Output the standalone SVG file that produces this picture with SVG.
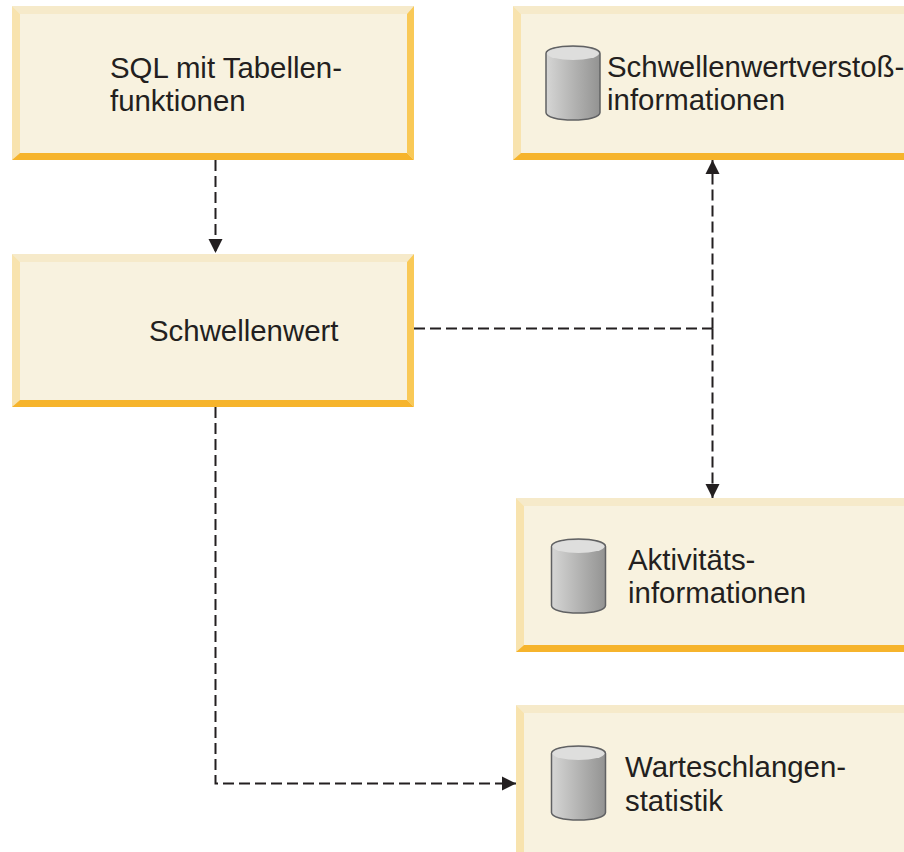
<svg xmlns="http://www.w3.org/2000/svg" width="904" height="852" viewBox="0 0 904 852">
<defs>
<linearGradient id="cyl" x1="0" x2="1" y1="0" y2="0"><stop offset="0" stop-color="#d6d6d5"/><stop offset="0.5" stop-color="#b4b4b3"/><stop offset="1" stop-color="#939392"/></linearGradient>
<marker id="ah" markerUnits="userSpaceOnUse" markerWidth="15" markerHeight="15" refX="14" refY="7.500" orient="auto-start-reverse"><path d="M0 0.5L14 7.500L0 14.500Z" fill="#231f20"/></marker>
<g id="db"><path class="cb" d="M0 7.500V66.500C0 71 12 74 27 74S54 71 54 66.500V7.500C54 3 42 0 27 0S0 3 0 7.500Z"/><ellipse class="ct" cx="27" cy="7.500" rx="26" ry="6.500"/></g>
</defs>
<style>
.face{fill:#f8f2df}.top{fill:#f6eaca}.left{fill:#f8e3ae}.right{fill:#f9c957}.bottom{fill:#f6b42c}
.cb{fill:url(#cyl);stroke:#606163;stroke-width:1.500}.ct{fill:#dededd}
text{font-family:"Liberation Sans",Arial,sans-serif;font-size:29.400px;fill:#231f20}
.c{fill:none;stroke:#231f20;stroke-width:2;stroke-dasharray:11 5}
</style>
<g id="connectors">
<path class="c" d="M215.500 160V253" marker-end="url(#ah)"/>
<path class="c" d="M414 328.500H712.500"/>
<path class="c" d="M712.500 328.500V160" marker-end="url(#ah)"/>
<path class="c" d="M712.500 328.500V498" marker-end="url(#ah)"/>
<path class="c" d="M215.500 407V783.500H516" marker-end="url(#ah)"/>
</g>
<g id="node-sql">
<rect class="face" x="12" y="6" width="402" height="154"/>
<path class="top" d="M12 6H414L407 14H20Z"/><path class="left" d="M12 6L20 14V153L12 160Z"/><path class="right" d="M414 6V160L407 153V14Z"/><path class="bottom" d="M12 160L20 153H407L414 160Z"/>
<text x="110" y="78">SQL mit Tabellen-</text><text x="110" y="111">funktionen</text>
</g>
<g id="node-violation">
<rect class="face" x="513" y="6" width="391" height="154"/>
<path class="top" d="M513 6H904V14H521Z"/><path class="left" d="M513 6L521 14V153L513 160Z"/><path class="bottom" d="M513 160L521 153H904V160Z"/>
<use href="#db" x="546" y="46"/>
<text x="607" y="77">Schwellenwertverstoß-</text><text x="607" y="110">informationen</text>
</g>
<g id="node-threshold">
<rect class="face" x="12" y="254" width="402" height="153"/>
<path class="top" d="M12 254H414L407 262H20Z"/><path class="left" d="M12 254L20 262V400L12 407Z"/><path class="right" d="M414 254V407L407 400V262Z"/><path class="bottom" d="M12 407L20 400H407L414 407Z"/>
<text x="149" y="341">Schwellenwert</text>
</g>
<g id="node-activity">
<rect class="face" x="516" y="498" width="388" height="154"/>
<path class="top" d="M516 498H904V506H524Z"/><path class="left" d="M516 498L524 506V645L516 652Z"/><path class="bottom" d="M516 652L524 645H904V652Z"/>
<use href="#db" x="551.500" y="539"/>
<text x="628" y="570">Aktivitäts-</text><text x="628" y="603">informationen</text>
</g>
<g id="node-queue">
<rect class="face" x="516" y="705" width="388" height="147"/>
<path class="top" d="M516 705H904V713H524Z"/><path class="left" d="M516 705L524 713V852H516Z"/>
<use href="#db" x="551.500" y="746"/>
<text x="625" y="777">Warteschlangen-</text><text x="625" y="811">statistik</text>
</g>
</svg>
